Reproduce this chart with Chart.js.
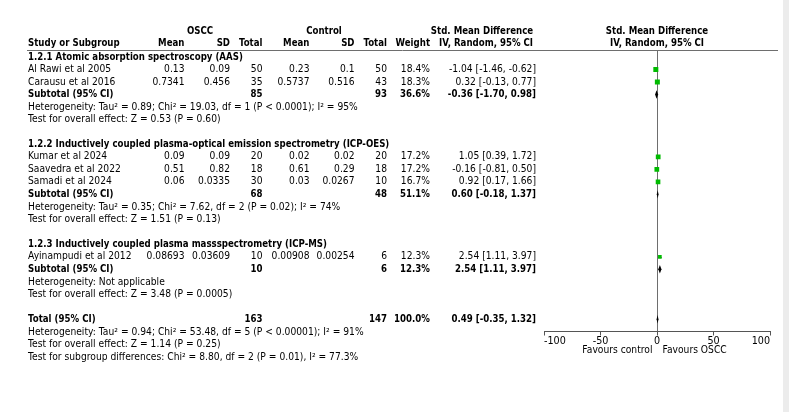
<!DOCTYPE html>
<html>
<head>
<meta charset="utf-8">
<script src="https://cdn.jsdelivr.net/npm/chart.js@4"></script>
<style>
  html, body { margin: 0; padding: 0; background: #fff; }
  #wrap { position: relative; width: 789px; height: 412px; overflow: hidden; }
  #edge { position: absolute; left: 783px; top: 0; width: 6px; height: 412px; background: #ececec; }
</style>
</head>
<body>
<div id="wrap">
  <canvas id="forest" width="789" height="412"></canvas>
  <div id="edge"></div>
</div>
<script>
// Forest plot: OSCC vs control, standardised mean difference by measurement method.
const studyNames = [
  "Al Rawi et al 2005",
  "Carausu et al 2016",
  "Kumar et al 2024",
  "Saavedra et al 2022",
  "Samadi et al 2024",
  "Ayinampudi et al 2012"
];
const osccMean = [0.13, 0.7341, 0.09, 0.51, 0.06, 0.08693];
const osccSd = [0.09, 0.456, 0.09, 0.82, 0.0335, 0.03609];
const osccN = [50, 35, 20, 18, 30, 10];
const ctrlMean = [0.23, 0.5737, 0.02, 0.61, 0.03, 0.00908];
const ctrlSd = [0.1, 0.516, 0.02, 0.29, 0.0267, 0.00254];
const ctrlN = [50, 43, 20, 18, 10, 6];
const weights = [18.4, 18.3, 17.2, 17.2, 16.7, 12.3];
const smd = [-1.04, 0.32, 1.05, -0.16, 0.92, 2.54];
const ciLow = [-1.46, -0.13, 0.39, -0.81, 0.17, 1.11];
const ciHigh = [-0.62, 0.77, 1.72, 0.50, 1.66, 3.97];

const groupTitles = [
  "1.2.1 Atomic absorption spectroscopy (AAS)",
  "1.2.2 Inductively coupled plasma-optical emission spectrometry (ICP-OES)",
  "1.2.3 Inductively coupled plasma massspectrometry (ICP-MS)"
];
const groupMembers = [[0, 1], [2, 3, 4], [5]];
const subOsccN = [85, 68, 10];
const subCtrlN = [93, 48, 6];
const subWeights = [36.6, 51.1, 12.3];
const subSmd = [-0.36, 0.60, 2.54];
const subLow = [-1.70, -0.18, 1.11];
const subHigh = [0.98, 1.37, 3.97];
const subHeterogeneity = [
  "Heterogeneity: Tau² = 0.89; Chi² = 19.03, df = 1 (P < 0.0001); I² = 95%",
  "Heterogeneity: Tau² = 0.35; Chi² = 7.62, df = 2 (P = 0.02); I² = 74%",
  "Heterogeneity: Not applicable"
];
const subOverall = [
  "Test for overall effect: Z = 0.53 (P = 0.60)",
  "Test for overall effect: Z = 1.51 (P = 0.13)",
  "Test for overall effect: Z = 3.48 (P = 0.0005)"
];

const totalOsccN = 163;
const totalCtrlN = 147;
const totalWeight = 100.0;
const totalSmd = 0.49;
const totalLow = -0.35;
const totalHigh = 1.32;
const totalNotes = [
  "Heterogeneity: Tau² = 0.94; Chi² = 53.48, df = 5 (P < 0.00001); I² = 91%",
  "Test for overall effect: Z = 1.14 (P = 0.25)",
  "Test for subgroup differences: Chi² = 8.80, df = 2 (P = 0.01), I² = 77.3%"
];

const xTicks = [-100, -50, 0, 50, 100];
const favoursLeft = "Favours control";
const favoursRight = "Favours OSCC";

// Look and column layout.
const FONT = "'DejaVu Sans', sans-serif";
const SIZE = 9.8;
// DejaVu runs wider than the original face, bold much more so: squeeze to match.
const SQUEEZE = 0.936;
const SQUEEZE_BOLD = 0.88;
const INK = "#000";
const SQUARE = "#00bb00";
const RULE = "#6e6e6e";
const COL = { name: 28, m1: 184.5, s1: 230, n1: 262.5, m2: 309.5, s2: 354.5, n2: 387, w: 430, ci: 536 };

// One entry per table line, in order; its index is the y value on the row scale.
const rows = [];
groupTitles.forEach((title, g) => {
  rows.push({ kind: "title", text: title });
  groupMembers[g].forEach((i) => rows.push({ kind: "study", i }));
  rows.push({ kind: "subtotal", g });
  rows.push({ kind: "note", text: subHeterogeneity[g] });
  rows.push({ kind: "note", text: subOverall[g] });
  rows.push({ kind: "blank" });
});
rows.push({ kind: "total" });
totalNotes.forEach((text) => rows.push({ kind: "note", text }));

const num = (v) => String(v);
const ci = (m, lo, hi) => `${m.toFixed(2)} [${lo.toFixed(2)}, ${hi.toFixed(2)}]`;
const pct = (w) => w.toFixed(1) + "%";

const studyPoints = [];
const diamonds = [];
rows.forEach((row, r) => {
  if (row.kind === "study") {
    studyPoints.push({ x: smd[row.i], y: r, w: weights[row.i] });
  } else if (row.kind === "subtotal") {
    diamonds.push({ y: r, m: subSmd[row.g], lo: subLow[row.g], hi: subHigh[row.g] });
  } else if (row.kind === "total") {
    diamonds.push({ y: r, m: totalSmd, lo: totalLow, hi: totalHigh });
  }
});

function text(ctx, str, x, y, align, bold) {
  ctx.font = `${bold ? "bold " : ""}${SIZE}px ${FONT}`;
  ctx.textAlign = align;
  const w = ctx.measureText(str).width * (bold ? SQUEEZE_BOLD : SQUEEZE);
  ctx.fillText(str, x, y, w);
}

const forestTable = {
  id: "forestTable",
  beforeDatasetsDraw(chart) {
    const { ctx, scales: { x, y } } = chart;
    ctx.save();
    ctx.strokeStyle = INK;
    ctx.lineWidth = 1;
    studyPoints.forEach((p) => {
      const i = rows[p.y].i;
      const py = Math.round(y.getPixelForValue(p.y)) + 0.5;
      ctx.beginPath();
      ctx.moveTo(x.getPixelForValue(ciLow[i]), py);
      ctx.lineTo(x.getPixelForValue(ciHigh[i]), py);
      ctx.stroke();
    });
    ctx.restore();
  },
  afterDatasetsDraw(chart) {
    const { ctx, scales: { x, y } } = chart;
    ctx.save();
    ctx.fillStyle = INK;
    diamonds.forEach((d) => {
      const py = y.getPixelForValue(d.y);
      const h = 4.2;
      ctx.beginPath();
      ctx.moveTo(x.getPixelForValue(d.lo), py);
      ctx.lineTo(x.getPixelForValue(d.m), py - h);
      ctx.lineTo(x.getPixelForValue(d.hi), py);
      ctx.lineTo(x.getPixelForValue(d.m), py + h);
      ctx.closePath();
      ctx.fill();
    });
    ctx.restore();
  },
  afterDraw(chart) {
    const { ctx, scales: { x, y }, chartArea } = chart;
    const x0 = x.getPixelForValue(0);
    ctx.save();
    ctx.fillStyle = INK;
    ctx.textBaseline = "middle";

    // Column headers.
    const h1 = 31.5;
    const h2 = 43.3;
    text(ctx, "OSCC", 200, h1, "center", true);
    text(ctx, "Control", 324, h1, "center", true);
    text(ctx, "Std. Mean Difference", 482, h1, "center", true);
    text(ctx, "Std. Mean Difference", x0, h1, "center", true);
    text(ctx, "Study or Subgroup", COL.name, h2, "left", true);
    text(ctx, "Mean", COL.m1, h2, "right", true);
    text(ctx, "SD", COL.s1, h2, "right", true);
    text(ctx, "Total", COL.n1, h2, "right", true);
    text(ctx, "Mean", COL.m2, h2, "right", true);
    text(ctx, "SD", COL.s2, h2, "right", true);
    text(ctx, "Total", COL.n2, h2, "right", true);
    text(ctx, "Weight", COL.w, h2, "right", true);
    text(ctx, "IV, Random, 95% CI", 486, h2, "center", true);
    text(ctx, "IV, Random, 95% CI", x0, h2, "center", true);

    ctx.strokeStyle = RULE;
    ctx.lineWidth = 1;
    ctx.beginPath();
    ctx.moveTo(27, Math.round(chartArea.top) + 0.5);
    ctx.lineTo(778, Math.round(chartArea.top) + 0.5);
    ctx.stroke();

    rows.forEach((row, r) => {
      const py = y.getPixelForValue(r);
      if (row.kind === "title") {
        text(ctx, row.text, COL.name, py, "left", true);
      } else if (row.kind === "note") {
        text(ctx, row.text, COL.name, py + 0.5, "left", false);
      } else if (row.kind === "study") {
        const i = row.i;
        text(ctx, studyNames[i], COL.name, py, "left", false);
        text(ctx, num(osccMean[i]), COL.m1, py, "right", false);
        text(ctx, num(osccSd[i]), COL.s1, py, "right", false);
        text(ctx, num(osccN[i]), COL.n1, py, "right", false);
        text(ctx, num(ctrlMean[i]), COL.m2, py, "right", false);
        text(ctx, num(ctrlSd[i]), COL.s2, py, "right", false);
        text(ctx, num(ctrlN[i]), COL.n2, py, "right", false);
        text(ctx, pct(weights[i]), COL.w, py, "right", false);
        text(ctx, ci(smd[i], ciLow[i], ciHigh[i]), COL.ci, py, "right", false);
      } else if (row.kind === "subtotal") {
        const g = row.g;
        text(ctx, "Subtotal (95% CI)", COL.name, py, "left", true);
        text(ctx, num(subOsccN[g]), COL.n1, py, "right", true);
        text(ctx, num(subCtrlN[g]), COL.n2, py, "right", true);
        text(ctx, pct(subWeights[g]), COL.w, py, "right", true);
        text(ctx, ci(subSmd[g], subLow[g], subHigh[g]), COL.ci, py, "right", true);
      } else if (row.kind === "total") {
        text(ctx, "Total (95% CI)", COL.name, py, "left", true);
        text(ctx, num(totalOsccN), COL.n1, py, "right", true);
        text(ctx, num(totalCtrlN), COL.n2, py, "right", true);
        text(ctx, pct(totalWeight), COL.w, py, "right", true);
        text(ctx, ci(totalSmd, totalLow, totalHigh), COL.ci, py, "right", true);
      }
    });

    // Direction labels under the axis.
    const fy = chartArea.bottom + 18.5;
    text(ctx, favoursLeft, x0 - 4.5, fy, "right", false);
    text(ctx, favoursRight, x0 + 5.5, fy, "left", false);
    ctx.restore();
  }
};

new Chart(document.getElementById("forest"), {
  type: "scatter",
  data: {
    datasets: [
      {
        data: studyPoints,
        pointStyle: "rect",
        pointRadius: (c) => 0.6 + 0.16 * c.raw.w,
        pointHoverRadius: (c) => 0.6 + 0.16 * c.raw.w,
        backgroundColor: SQUARE,
        borderWidth: 0
      }
    ]
  },
  options: {
    responsive: false,
    animation: false,
    devicePixelRatio: 1,
    layout: { padding: { left: 544, right: 19, top: 50, bottom: 58.5 } },
    plugins: { legend: { display: false }, tooltip: { enabled: false } },
    scales: {
      x: {
        type: "linear",
        min: -100,
        max: 100,
        afterBuildTicks: (s) => { s.ticks = xTicks.map((value) => ({ value })); },
        afterFit: (s) => { s.height = 22; },
        ticks: {
          align: "inner",
          padding: 0,
          color: INK,
          font: { family: FONT, size: 9.6 },
          callback: (v) => String(v)
        },
        grid: {
          color: (c) => (c.tick && c.tick.value === 0 ? RULE : "rgba(0,0,0,0)"),
          tickColor: "#555",
          tickLength: 4,
          lineWidth: 1
        },
        border: { color: "#555", width: 1 }
      },
      y: { display: false, reverse: true, min: -0.56, max: 21.98 }
    }
  },
  plugins: [forestTable]
});
</script>
</body>
</html>
